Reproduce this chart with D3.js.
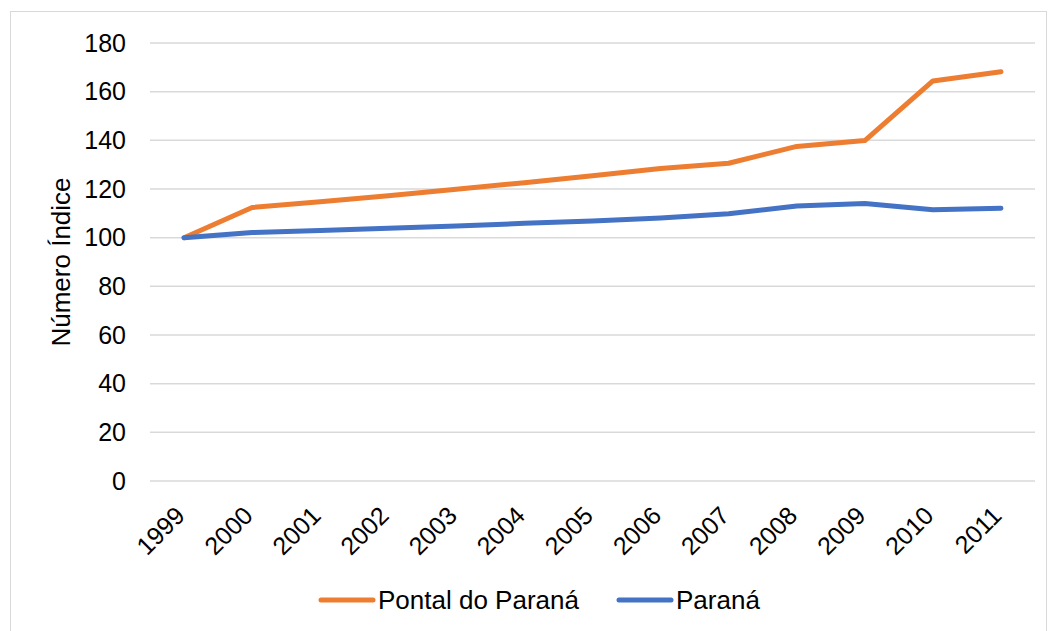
<!DOCTYPE html>
<html>
<head>
<meta charset="utf-8">
<script src="https://cdn.jsdelivr.net/npm/d3@7"></script>
<style>
body { margin: 0; background: #fff; }
text { font-family: "Liberation Sans", Arial, sans-serif; fill: #000; }
</style>
</head>
<body>
<script>
var years = ["1999","2000","2001","2002","2003","2004","2005","2006","2007","2008","2009","2010","2011"];
var pontal = [100, 112.4, 114.8, 117.2, 119.9, 122.6, 125.4, 128.4, 130.6, 137.5, 139.9, 164.4, 168.2];
var parana = [100, 102.1, 102.9, 103.9, 104.8, 105.9, 106.9, 108.1, 109.8, 113.0, 114.0, 111.5, 112.1];
var yTicks = [0, 20, 40, 60, 80, 100, 120, 140, 160, 180];
var seriesNames = ["Pontal do Paraná", "Paraná"];
var colors = ["#ED7D31", "#4472C4"];

var width = 1049, height = 631;
var plotL = 150, plotR = 1035, plotT = 43, plotB = 481;

var svg = d3.select("body").append("svg")
    .attr("width", width)
    .attr("height", height);

// chart border
svg.append("rect")
    .attr("x", 10.5).attr("y", 11.5)
    .attr("width", 1036).attr("height", 640)
    .attr("fill", "none")
    .attr("stroke", "#d9d9d9")
    .attr("stroke-width", 1);

var x = d3.scaleBand()
    .domain(years)
    .range([plotL, plotR]);

var y = d3.scaleLinear()
    .domain([0, 180])
    .range([plotB, plotT]);

// gridlines
svg.append("g")
    .selectAll("line")
    .data(yTicks)
    .enter().append("line")
    .attr("x1", plotL).attr("x2", plotR)
    .attr("y1", function(d) { return y(d); })
    .attr("y2", function(d) { return y(d); })
    .attr("stroke", "#d9d9d9")
    .attr("stroke-width", 1.5);

// y axis labels
svg.append("g")
    .selectAll("text")
    .data(yTicks)
    .enter().append("text")
    .attr("x", 126)
    .attr("y", function(d) { return y(d); })
    .attr("dy", "0.35em")
    .attr("text-anchor", "end")
    .style("font-size", "25px")
    .text(function(d) { return d; });

// x axis labels
svg.append("g")
    .selectAll("text")
    .data(years)
    .enter().append("text")
    .attr("transform", function(d) {
        return "translate(" + (x(d) + x.bandwidth() / 2 - 4) + "," + 511 + ") rotate(-45)";
    })
    .attr("dy", "0.35em")
    .attr("text-anchor", "end")
    .style("font-size", "25px")
    .text(function(d) { return d; });

// axis title
svg.append("text")
    .attr("transform", "translate(70," + ((plotT + plotB) / 2) + ") rotate(-90)")
    .attr("text-anchor", "middle")
    .style("font-size", "26px")
    .text("Número Índice");

var line = d3.line()
    .x(function(d, i) { return x(years[i]) + x.bandwidth() / 2; })
    .y(function(d) { return y(d); });

[pontal, parana].forEach(function(s, k) {
    svg.append("path")
        .datum(s)
        .attr("d", line)
        .attr("fill", "none")
        .attr("stroke", colors[k])
        .attr("stroke-width", 5)
        .attr("stroke-linejoin", "round")
        .attr("stroke-linecap", "round");
});

// legend
var legendX = [321, 619];
seriesNames.forEach(function(name, k) {
    svg.append("line")
        .attr("x1", legendX[k]).attr("x2", legendX[k] + 52)
        .attr("y1", 600).attr("y2", 600)
        .attr("stroke", colors[k])
        .attr("stroke-width", 5)
        .attr("stroke-linecap", "round");
    svg.append("text")
        .attr("x", legendX[k] + 57)
        .attr("y", 600)
        .attr("dy", "0.35em")
        .style("font-size", "26px")
        .text(name);
});
</script>
</body>
</html>
